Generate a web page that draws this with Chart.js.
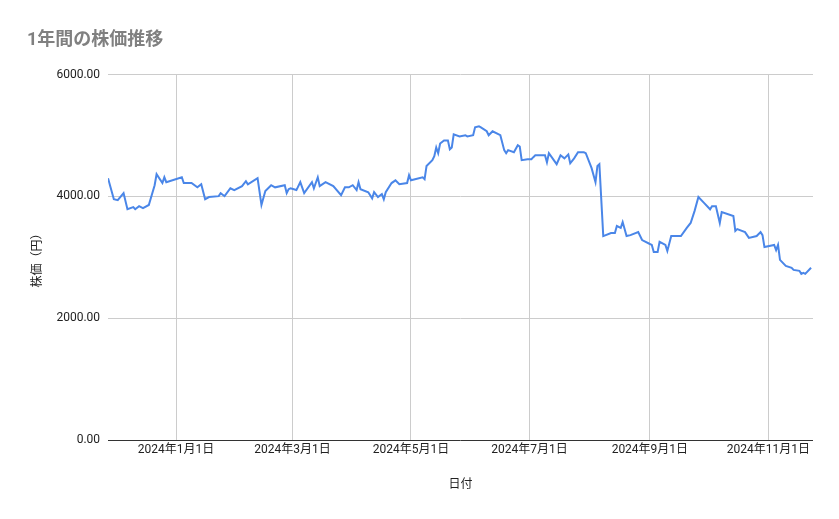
<!DOCTYPE html>
<html><head><meta charset="utf-8">
<script src="https://cdn.jsdelivr.net/npm/chart.js@4"></script>
<style>html,body{margin:0;padding:0;background:#fff}#w{width:839px;height:519px;position:relative}</style>
</head><body><div id="w"><canvas id="c"></canvas></div>
<script>
// days since 2023-11-27
const days = [0,1,3,5,8,10,13,14,16,18,21,24,25,28,29,30,38,39,43,46,48,50,52,57,58,60,63,65,69,71,72,77,79,81,84,86,91,92,93,94,97,99,101,105,106,108,109,112,116,120,122,124,126,128,129,130,134,136,137,139,141,142,143,146,148,150,154,155,156,162,163,164,167,168,169,170,171,173,174,175,176,177,178,181,184,185,188,189,191,192,195,196,198,202,204,205,206,209,211,212,213,216,218,219,220,225,226,227,231,233,235,237,238,240,242,245,246,249,251,252,253,255,259,261,262,264,265,267,269,273,275,279,280,281,283,284,287,288,290,295,298,300,302,304,307,310,311,313,315,316,322,323,324,328,330,334,336,337,338,343,344,345,346,349,352,353,356,357,358,359,362];
const prices = [4300,4185,3955,3940,4055,3790,3825,3790,3840,3810,3860,4185,4365,4220,4315,4235,4315,4220,4220,4150,4200,3955,3990,4005,4055,4005,4135,4105,4170,4250,4200,4300,3860,4090,4185,4150,4185,4055,4120,4135,4105,4235,4055,4235,4135,4315,4170,4235,4170,4020,4150,4150,4185,4105,4235,4120,4070,3970,4070,3990,4040,3955,4070,4220,4265,4200,4220,4350,4265,4315,4285,4500,4595,4660,4805,4710,4870,4920,4920,4920,4775,4805,5020,4985,5005,4985,5005,5135,5150,5135,5070,5005,5070,5005,4760,4710,4760,4725,4840,4820,4595,4610,4610,4645,4675,4675,4560,4710,4530,4675,4625,4690,4545,4625,4725,4725,4710,4465,4235,4500,4530,3350,3400,3400,3515,3485,3580,3350,3365,3415,3285,3220,3205,3090,3090,3255,3205,3105,3350,3350,3485,3565,3760,3990,3890,3790,3840,3840,3565,3745,3680,3435,3465,3415,3320,3350,3415,3365,3170,3205,3120,3205,2960,2860,2830,2795,2780,2730,2745,2730,2830];
const tickDays = [35,95,156,217,279,340];
const tickLabels = ['2024年1月1日','2024年3月1日','2024年5月1日','2024年7月1日','2024年9月1日','2024年11月1日'];
const yTicks = [0,2000,4000,6000];

new Chart(document.getElementById('c'), {
  type: 'line',
  data: { datasets: [{ data: days.map((d,i)=>({x:d,y:prices[i]})), borderColor:'#4a86e8', borderWidth:2, pointRadius:0, tension:0 }] },
  options: {
    responsive:true, maintainAspectRatio:false, animation:false,
    layout:{padding:{left:27,right:26,top:20,bottom:23}},
    plugins:{legend:{display:false},tooltip:{enabled:false},
      title:{display:true,text:'1年間の株価推移',align:'start',color:'#808080',font:{family:'Roboto, "Noto Sans CJK JP"',size:18,weight:'bold'},padding:{top:10,bottom:23}}},
    scales:{
      x:{type:'linear',min:0,max:363,
        afterBuildTicks:(a)=>{a.ticks=tickDays.map(v=>({value:v}));},
        ticks:{autoSkip:false,maxRotation:0,color:'#222',font:{family:'Roboto, "Noto Sans CJK JP"',size:12},callback:(v)=>tickLabels[tickDays.indexOf(v)]},
        grid:{color:'#cccccc',drawTicks:false},border:{display:false},
        title:{display:true,text:'日付',color:'#222',font:{family:'Roboto, "Noto Sans CJK JP"',size:12},padding:{top:17}}},
      y:{min:0,max:6000,
        afterBuildTicks:(a)=>{a.ticks=yTicks.map(v=>({value:v}));},
        ticks:{color:'#222',padding:8,font:{family:'Roboto, "Noto Sans CJK JP"',size:12},callback:(v)=>v.toFixed(2)},
        grid:{color:(c)=>c.tick&&c.tick.value===0?'#333':'#cccccc',drawTicks:false},border:{display:false},
        title:{display:true,text:'株価（円）',color:'#222',font:{family:'Roboto, "Noto Sans CJK JP"',size:12},padding:{bottom:3}}}
    }
  }
});
</script></body></html>
